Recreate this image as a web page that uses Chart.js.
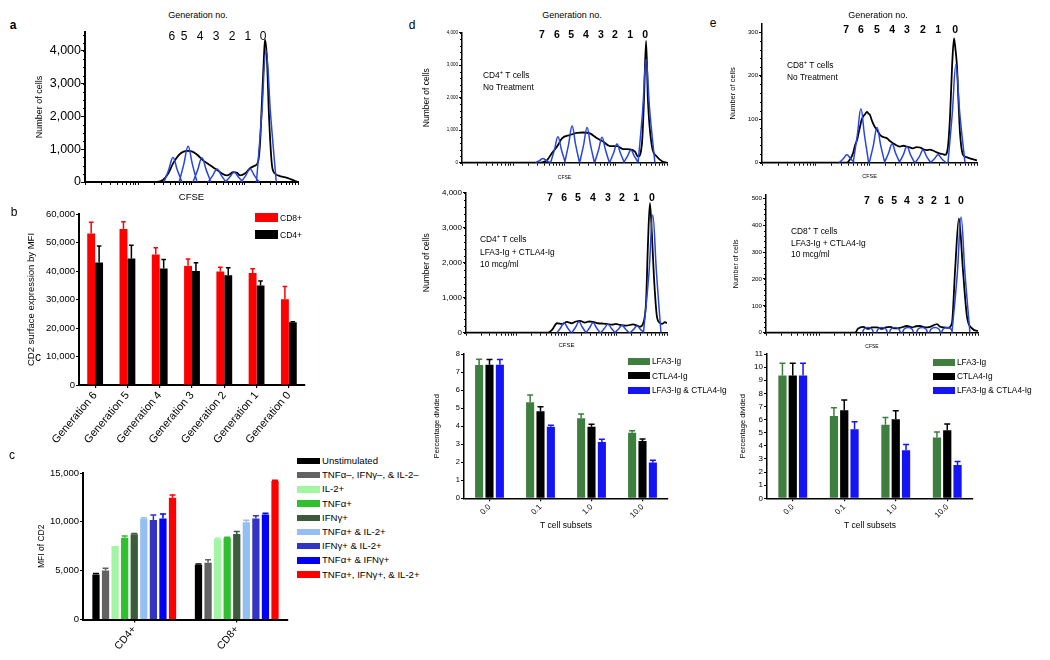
<!DOCTYPE html>
<html>
<head>
<meta charset="utf-8">
<script src="https://cdn.jsdelivr.net/npm/chart.js@4.4.1/dist/chart.umd.min.js"></script>
<style>
  body { margin: 0; background: #fff; }
  #fig { position: relative; width: 1050px; height: 660px; overflow: hidden; background: #fff; color: #000;
         font-family: 'Liberation Sans', Arial, sans-serif; }
  #fig canvas { position: absolute; }
  .t { position: absolute; white-space: nowrap; line-height: 1; }
  .c { transform: translate(-50%, -50%); }
  .m { transform: translateY(-50%); }
  .sw { position: absolute; }
  sup { font-size: 70%; vertical-align: super; line-height: 0; }
</style>
</head>
<body>
<div id="fig"></div>
<script>
// ---- panel a : CFSE histogram (CFSE in % of axis, counts) ----
const aTicks = [0, 1000, 2000, 3000, 4000];
const aBlack = [[0,0],[33.8,0],[36.6,60],[39.0,250],[41.3,560],[43.7,800],[46.0,920],[48.4,950],[50.7,920],[53.1,810],[55.4,660],[57.7,560],[60.1,450],[62.4,350],[64.3,260],[66.7,200],[68.1,240],[69.5,300],[71.4,280],[72.8,200],[75.1,260],[77.5,420],[79.8,500],[81.2,600],[82.2,1200],[83.1,2500],[84.0,3800],[84.5,4350],[85.4,3800],[86.4,2000],[87.8,500],[89.2,260],[91.5,180],[95.3,120],[98.6,30],[100,0]];
const aPeaks = [
  [[37.1,0],[39.3,375],[41.3,750],[43.3,375],[45.5,0]],
  [[44.2,0],[46.4,545],[48.4,1090],[50.4,545],[52.6,0]],
  [[50.7,0],[52.9,370],[54.9,740],[56.9,370],[59.1,0]],
  [[57.8,0],[60.0,200],[62.0,400],[64.0,200],[66.2,0]],
  [[65.8,0],[68.0,150],[70.0,300],[72.0,150],[74.2,0]],
  [[73.3,0],[75.5,200],[77.5,400],[79.5,200],[81.7,0]],
  [[80.5,0],[82.9,2000],[85.0,4020],[87.2,2000],[89.8,0]]
];
const aGen = ['6','5','4','3','2','1','0'];
const aGenX = [40.8, 46.5, 54.0, 61.5, 69.0, 76.5, 83.6];

// ---- panel b ----
const genCats = ['Generation 6','Generation 5','Generation 4','Generation 3','Generation 2','Generation 1','Generation 0'];
const bTicks = [0, 10000, 20000, 30000, 40000, 50000, 60000];
const cd8Mfi = [53200, 54700, 45800, 41800, 39800, 39300, 30100];
const cd8Sem = [3900, 2600, 2400, 2400, 1500, 1500, 4500];
const cd4Mfi = [43000, 44400, 40900, 40000, 38500, 34900, 22000];
const cd4Sem = [5800, 4600, 3100, 2900, 2600, 1600, 200];

// ---- panel c ----
const subsetCats = ['CD4+', 'CD8+'];
const cTicks = [0, 5000, 10000, 15000];
const cytoNames = ['Unstimulated','TNFα–, IFNγ–, & IL-2–','IL-2+','TNFα+','IFNγ+','TNFα+ & IL-2+','IFNγ+ & IL-2+','TNFα+ & IFNγ+','TNFα+, IFNγ+, & IL-2+'];
const cytoCd4 = [4600, 5020, 7530, 8380, 8730, 10310, 10200, 10340, 12470];
const cytoCd4Sem = [100, 240, 0, 180, 70, 100, 490, 450, 280];
const cytoCd8 = [5600, 5810, 8210, 8350, 8760, 9970, 10340, 10760, 14190];
const cytoCd8Sem = [70, 310, 110, 70, 240, 200, 280, 130, 70];

// ---- panel d histograms (CD4) ----
const dHistTicks = [0, 1000, 2000, 3000, 4000];
const dTopBlack = [[0,0],[38.0,0],[39.5,20],[41.5,80],[43.9,300],[46.3,490],[48.8,750],[52.7,850],[56.1,920],[59.0,930],[62.4,900],[65.9,750],[68.8,650],[72.2,510],[75.6,510],[78.5,420],[82.0,410],[84.4,340],[85.9,185],[87.8,600],[88.8,2000],[89.8,3750],[90.7,1930],[92.7,490],[95.1,185],[98.0,30],[100,0]];
const dTopPeaks = [
  [[35.9,0],[37.8,65],[39.5,130],[41.2,65],[43.1,0]],
  [[43.2,0],[45.1,400],[46.8,800],[48.5,400],[50.4,0]],
  [[50.1,0],[52.0,565],[53.7,1130],[55.4,565],[57.3,0]],
  [[57.4,0],[59.3,540],[61.0,1080],[62.7,540],[64.6,0]],
  [[64.7,0],[66.6,390],[68.3,780],[70.0,390],[71.9,0]],
  [[72.0,0],[73.9,288],[75.6,575],[77.3,288],[79.2,0]],
  [[78.8,0],[80.7,195],[82.4,390],[84.1,195],[86.0,0]],
  [[85.9,0],[88.1,1590],[89.8,3180],[91.6,1590],[94.1,0]]
];
const dMidBlack = [[0,0],[40.8,0],[42.8,80],[45.3,270],[47.8,250],[50.2,310],[52.7,270],[54.7,320],[56.7,340],[59.2,290],[61.2,320],[63.2,310],[65.7,270],[68.2,260],[70.1,250],[72.6,230],[74.6,250],[76.6,220],[79.6,200],[83.1,240],[85.1,200],[86.6,170],[88.1,260],[89.6,900],[90.5,2500],[91.5,3700],[92.5,2800],[93.5,1600],[95.0,460],[96.5,280],[97.5,250],[99.0,300],[100,270]];
const dMidPeaks = [
  [[45.3,0],[47.1,143],[48.8,285],[50.5,143],[52.3,0]],
  [[52.7,0],[54.5,155],[56.2,310],[57.9,155],[59.7,0]],
  [[59.7,0],[61.5,143],[63.2,285],[64.9,143],[66.7,0]],
  [[67.1,0],[68.9,125],[70.6,250],[72.3,125],[74.1,0]],
  [[74.1,0],[75.9,105],[77.6,210],[79.3,105],[81.1,0]],
  [[81.6,0],[83.4,95],[85.1,190],[86.8,95],[88.6,0]],
  [[88.3,0],[91.0,1680],[92.9,3360],[94.8,1680],[97.0,0]]
];
const gen8 = ['7','6','5','4','3','2','1','0'];
const dTopGenX = [39.0, 46.3, 53.2, 60.5, 67.8, 74.6, 82.0, 89.3];
const dMidGenX = [41.8, 48.8, 55.7, 63.2, 70.6, 77.6, 84.6, 92.5];

// ---- panel e histograms (CD8) ----
const eTopTicks = [0, 100, 200, 300];
const eMidTicks = [0, 100, 200, 300, 400, 500];
const eTopBlack = [[0,0],[39.5,0],[41.0,8],[42.3,21],[43.3,40],[44.2,52],[45.0,70],[45.6,83],[46.3,98],[47.0,106],[48.0,112],[48.8,117],[49.5,113],[50.2,110],[50.9,100],[51.6,91],[52.5,82],[53.5,75],[54.6,66],[55.8,60],[57.0,58],[58.1,56],[59.5,50],[60.9,45],[62.5,40],[64.2,37],[65.8,39],[67.4,37],[68.8,35],[70.2,33],[71.8,36],[73.5,35],[75.0,31],[76.7,29],[78.0,30],[79.5,28],[81.2,24],[82.8,21],[84.0,20],[85.1,18],[86.5,37],[87.5,110],[88.4,221],[89.3,286],[90.0,260],[90.7,221],[91.4,140],[92.1,68],[93.5,18],[95.0,13],[96.7,10],[98.0,8],[99.5,6],[100,5]];
const eTopPeaks = [
  [[35.9,0],[37.8,9],[39.5,18],[41.2,9],[43.1,0]],
  [[42.4,0],[44.3,62],[46.0,124],[47.7,62],[49.6,0]],
  [[49.9,0],[51.8,40],[53.5,81],[55.2,40],[57.1,0]],
  [[56.9,0],[58.8,21],[60.5,43],[62.2,21],[64.1,0]],
  [[63.8,0],[65.7,18],[67.4,37],[69.1,18],[71.0,0]],
  [[71.3,0],[73.2,14],[74.9,29],[76.6,14],[78.5,0]],
  [[78.3,0],[80.2,9],[81.9,18],[83.6,9],[85.5,0]],
  [[86.5,0],[88.5,113],[90.2,226],[92.0,113],[94.4,0]]
];
const eMidBlack = [[0,0],[42.0,0],[43.4,15],[45.8,22],[48.1,14],[50.0,20],[52.4,20],[54.7,14],[56.6,20],[58.5,22],[60.8,16],[63.2,18],[66.5,25],[68.9,20],[70.8,24],[72.6,25],[75.0,20],[77.4,22],[80.7,32],[82.1,22],[83.5,20],[85.8,18],[87.7,35],[89.2,233],[91.0,425],[92.9,233],[94.8,60],[97.2,16],[99.5,7],[100,7]];
const eMidPeaks = [
  [[45.5,0],[46.3,14],[48.1,19],[49.9,14],[50.7,0]],
  [[52.1,0],[52.9,14],[54.7,19],[56.5,14],[57.3,0]],
  [[58.2,0],[59.0,14],[60.8,19],[62.6,14],[63.4,0]],
  [[64.4,0],[65.2,14],[67.0,19],[68.8,14],[69.6,0]],
  [[71.0,0],[71.8,14],[73.6,19],[75.4,14],[76.2,0]],
  [[77.1,0],[77.9,14],[79.7,19],[81.5,14],[82.3,0]],
  [[82.8,0],[83.6,14],[85.4,19],[87.2,14],[88.0,0]],
  [[87.7,0],[90.2,215],[92.0,430],[93.9,215],[96.2,0]]
];
const eTopGenX = [39.1, 46.0, 53.5, 60.5, 67.4, 74.9, 81.9, 89.8];
const eMidGenX = [47.6, 54.2, 60.4, 66.5, 73.1, 79.2, 85.4, 92.0];

// ---- panels d / e bar charts ----
const doseCats = ['0.0', '0.1', '1.0', '10.0'];
const treatNames = ['LFA3-Ig', 'CTLA4-Ig', 'LFA3-Ig & CTLA4-Ig'];
const dBarTicks = [0, 1, 2, 3, 4, 5, 6, 7, 8];
const eBarTicks = [0, 1, 2, 3, 4, 5, 6, 7, 8, 9, 10, 11];
const cd4Lfa3 = [7.39, 5.32, 4.44, 3.64];
const cd4Lfa3Sem = [0.32, 0.41, 0.24, 0.11];
const cd4Ctla4 = [7.40, 4.82, 3.97, 3.18];
const cd4Ctla4Sem = [0.30, 0.26, 0.13, 0.11];
const cd4Both = [7.40, 3.97, 3.12, 1.98];
const cd4BothSem = [0.30, 0.08, 0.15, 0.13];
const cd8Lfa3 = [9.36, 6.28, 5.60, 4.63];
const cd8Lfa3Sem = [0.94, 0.62, 0.56, 0.43];
const cd8Ctla4 = [9.36, 6.72, 6.03, 5.19];
const cd8Ctla4Sem = [0.94, 0.78, 0.64, 0.48];
const cd8Both = [9.36, 5.27, 3.66, 2.54];
const cd8BothSem = [0.94, 0.56, 0.44, 0.26];

// colours
const BLUE_LINE = '#2a46d8';
const cytoColors = ['#000000','#626262','#a2f5a2','#2fbf2f','#3b5b3b','#93bff3','#3434c2','#0000f5','#ff0000'];
const treatColors = ['#3e7e3e', '#000000', '#1414f5'];

const FONT = "'Liberation Sans', Arial, sans-serif";
Chart.defaults.font.family = FONT;
Chart.defaults.color = '#000';
const fig = document.getElementById('fig');

// log-decade style tick marks on the CFSE axis
const cfseTicks = [];
for (let d = 0; d < 4; d++) for (let k = 1; k < 10; k++) cfseTicks.push(25 * (d + Math.log10(k)));
cfseTicks.push(100);

const errorBars = {
  id: 'errorBars',
  afterDatasetsDraw(chart, args, opts) {
    const ctx = chart.ctx, y = chart.scales.y;
    chart.data.datasets.forEach((ds, i) => {
      const meta = chart.getDatasetMeta(i);
      meta.data.forEach((bar, j) => {
        const e = ds.err[j];
        if (!e) return;
        const top = y.getPixelForValue(ds.data[j] + e);
        ctx.save();
        ctx.strokeStyle = ds.backgroundColor;
        ctx.lineWidth = 1.5;
        ctx.beginPath();
        ctx.moveTo(bar.x, bar.y);
        ctx.lineTo(bar.x, top);
        ctx.moveTo(bar.x - opts.cap, top);
        ctx.lineTo(bar.x + opts.cap, top);
        ctx.stroke();
        ctx.restore();
      });
    });
  }
};

const genLabels = {
  id: 'genLabels',
  afterDraw(chart, args, o) {
    if (!o.text) return;
    const ctx = chart.ctx, xs = chart.scales.x, ys = chart.scales.y;
    ctx.save();
    ctx.font = o.font;
    ctx.fillStyle = '#000';
    ctx.textAlign = 'center';
    ctx.textBaseline = 'middle';
    o.text.forEach((t, i) => ctx.fillText(t, xs.getPixelForValue(o.x[i]), ys.getPixelForValue(o.y)));
    ctx.restore();
  }
};

const minorTicks = {
  id: 'minorTicks',
  afterDraw(chart, args, o) {
    if (!o.step) return;
    const ctx = chart.ctx, y = chart.scales.y;
    ctx.save();
    ctx.strokeStyle = '#000';
    ctx.lineWidth = 1;
    for (let v = 0; v <= y.max + 1e-9; v += o.step) {
      const p = Math.round(y.getPixelForValue(v)) + 0.5;
      ctx.beginPath();
      ctx.moveTo(y.right, p);
      ctx.lineTo(y.right - o.len, p);
      ctx.stroke();
    }
    ctx.restore();
  }
};

function addCanvas(box) {
  const c = document.createElement('canvas');
  c.width = box[2]; c.height = box[3];
  c.style.left = box[0] + 'px'; c.style.top = box[1] + 'px';
  c.style.width = box[2] + 'px'; c.style.height = box[3] + 'px';
  fig.appendChild(c);
  return c;
}

function addText(html, x, y, size, cls, weight) {
  fig.insertAdjacentHTML('beforeend',
    `<div class="t ${cls}" style="left:${x}px;top:${y}px;font-size:${size}px;font-weight:${weight || 'normal'}">${html}</div>`);
}

function legend(x, y0, dy, bw, bh, fs, names, colors) {
  names.forEach((n, i) => {
    const y = y0 + i * dy;
    fig.insertAdjacentHTML('beforeend',
      `<div class="sw" style="left:${x}px;top:${y - bh / 2}px;width:${bw}px;height:${bh}px;background:${colors[i]}"></div>` +
      `<div class="t m" style="left:${x + bw + 2}px;top:${y}px;font-size:${fs}px">${n}</div>`);
  });
}

function axisY(o) {
  return {
    min: 0, max: o.max,
    afterBuildTicks: s => { s.ticks = o.ticks.map(v => ({ value: v })); },
    afterFit: s => { s.width = o.w; },
    border: { color: '#000', width: o.bw },
    grid: { drawOnChartArea: false, color: '#000', lineWidth: 1, tickLength: o.tl },
    ticks: { font: { size: o.fs }, padding: o.tp, callback: v => v.toLocaleString('en-US') },
    title: { display: true, text: o.title, font: { size: o.ts }, padding: 0 }
  };
}

function axisCFSE(o) {
  return {
    type: 'linear', min: 0, max: 100,
    afterBuildTicks: s => { s.ticks = cfseTicks.map(v => ({ value: v })); },
    afterFit: s => { s.height = o.h; },
    border: { color: '#000', width: o.bw },
    grid: { drawOnChartArea: false, color: '#000', lineWidth: 1, tickLength: 3 },
    ticks: { display: false },
    title: { display: true, text: 'CFSE', font: { size: o.ts }, padding: 0 }
  };
}

function axisCat(o) {
  return {
    type: 'category', offset: true,
    afterFit: s => { s.height = o.h; },
    border: { color: '#000', width: o.bw },
    grid: { offset: false, drawOnChartArea: false, color: '#000', lineWidth: 1.2, tickLength: 3 },
    ticks: { font: { size: o.fs }, minRotation: o.rot, maxRotation: o.rot, padding: 1, autoSkip: false },
    title: o.title ? { display: true, text: o.title, font: { size: o.ts }, padding: 0 } : { display: false }
  };
}

function points(curves) {
  const out = [];
  curves.forEach((c, i) => {
    if (i) out.push({ x: c[0][0], y: null });
    c.forEach(p => out.push({ x: p[0], y: p[1] }));
  });
  return out;
}

function histogram(box, pad, yAx, xAx, black, peaks, gen, minor) {
  new Chart(addCanvas(box), {
    type: 'line',
    data: {
      datasets: [
        { data: points(peaks), borderColor: BLUE_LINE, borderWidth: 1.5, spanGaps: false,
          cubicInterpolationMode: 'default', tension: 0.4 },
        { data: points([black]), borderColor: '#000', borderWidth: 1.8, cubicInterpolationMode: 'monotone' }
      ]
    },
    options: {
      responsive: false, animation: false, devicePixelRatio: 1,
      layout: { padding: { top: pad[0], right: pad[1], bottom: 0, left: 0 }, autoPadding: false },
      elements: { point: { radius: 0 }, line: { fill: false } },
      plugins: { legend: { display: false }, tooltip: { enabled: false }, genLabels: gen, minorTicks: minor },
      scales: { x: xAx, y: yAx }
    },
    plugins: [genLabels, minorTicks]
  });
}

function barChart(box, pad, cats, datasets, xAx, yAx, cap) {
  new Chart(addCanvas(box), {
    type: 'bar',
    data: { labels: cats, datasets },
    options: {
      responsive: false, animation: false, devicePixelRatio: 1,
      layout: { padding: { top: pad[0], right: pad[1], bottom: 0, left: 0 }, autoPadding: false },
      plugins: { legend: { display: false }, tooltip: { enabled: false }, errorBars: { cap } },
      scales: { x: xAx, y: yAx }
    },
    plugins: [errorBars]
  });
}

// ---------- a ----------
histogram([34, 20, 270, 183], [12, 6],
  axisY({ max: 4580, ticks: aTicks, w: 51, bw: 2, tl: 4, tp: 0, fs: 12.5, ts: 9, title: 'Number of cells' }),
  axisCFSE({ h: 21, bw: 2, ts: 9.5 }),
  aBlack, aPeaks,
  { text: aGen, x: aGenX, y: 4450, font: `12px ${FONT}` },
  { step: 250, len: 2 });

// ---------- b ----------
barChart([26, 200, 284, 255], [14, 5], genCats, [
    { data: cd8Mfi, err: cd8Sem, backgroundColor: '#ff0000', barPercentage: 1, categoryPercentage: 0.49 },
    { data: cd4Mfi, err: cd4Sem, backgroundColor: '#000000', barPercentage: 1, categoryPercentage: 0.49 }
  ],
  axisCat({ h: 70, bw: 2, fs: 11, rot: 50 }),
  axisY({ max: 60000, ticks: bTicks, w: 53, bw: 2, tl: 3, tp: 1, fs: 9.5, ts: 9.5, title: 'CD2 surface expression by MFI' }),
  2.3);

// ---------- c ----------
barChart([37, 460, 256, 200], [13, 5], subsetCats,
  cytoNames.map((n, i) => ({
    data: [cytoCd4[i], cytoCd8[i]], err: [cytoCd4Sem[i], cytoCd8Sem[i]],
    backgroundColor: cytoColors[i], barPercentage: 0.76, categoryPercentage: 0.84
  })),
  axisCat({ h: 40.5, bw: 2, fs: 10.5, rot: 50 }),
  axisY({ max: 15000, ticks: cTicks, w: 46, bw: 2, tl: 3, tp: 1, fs: 9.5, ts: 8.5, title: 'MFI of CD2' }),
  3);

// ---------- d ----------
histogram([422, 20, 250, 161], [12.7, 5],
  axisY({ max: 4000, ticks: dHistTicks, w: 40, bw: 1.5, tl: 3, tp: 1, fs: 4.5, ts: 8.5, title: 'Number of cells' }),
  axisCFSE({ h: 18.3, bw: 1.5, ts: 5 }),
  dTopBlack, dTopPeaks,
  { text: gen8, x: dTopGenX, y: 3930, font: `bold 10.5px ${FONT}` },
  { step: 200, len: 2 });

histogram([422, 185, 250, 164], [7.7, 5],
  axisY({ max: 4000, ticks: dHistTicks, w: 44, bw: 1.5, tl: 3, tp: 1, fs: 8, ts: 8.5, title: 'Number of cells' }),
  axisCFSE({ h: 16.3, bw: 1.5, ts: 6 }),
  dMidBlack, dMidPeaks,
  { text: gen8, x: dMidGenX, y: 3850, font: `bold 10.5px ${FONT}` },
  { step: 200, len: 2 });

barChart([432, 345, 240, 186], [9, 4], doseCats, [
    { data: cd4Lfa3, err: cd4Lfa3Sem, backgroundColor: treatColors[0], barPercentage: 0.78, categoryPercentage: 0.61 },
    { data: cd4Ctla4, err: cd4Ctla4Sem, backgroundColor: treatColors[1], barPercentage: 0.78, categoryPercentage: 0.61 },
    { data: cd4Both, err: cd4BothSem, backgroundColor: treatColors[2], barPercentage: 0.78, categoryPercentage: 0.61 }
  ],
  axisCat({ h: 32.7, bw: 1.5, fs: 8, rot: 45, title: 'T cell subsets', ts: 8.5 }),
  axisY({ max: 8, ticks: dBarTicks, w: 32, bw: 1.5, tl: 3, tp: 1, fs: 7.5, ts: 7.5, title: 'Percentage divided' }),
  3);

// ---------- e ----------
histogram([728, 15, 254, 165], [9, 5],
  axisY({ max: 319, ticks: eTopTicks, w: 34, bw: 1.5, tl: 3, tp: 1, fs: 6, ts: 7.5, title: 'Number of cells' }),
  axisCFSE({ h: 17.3, bw: 1.5, ts: 5.5 }),
  eTopBlack, eTopPeaks,
  { text: gen8, x: eTopGenX, y: 305, font: `bold 10.5px ${FONT}` },
  { step: 20, len: 2 });

histogram([732, 185, 251, 165], [10, 5],
  axisY({ max: 512, ticks: eMidTicks, w: 34, bw: 1.5, tl: 3, tp: 1, fs: 6.2, ts: 7, title: 'Number of cells' }),
  axisCFSE({ h: 17.3, bw: 1.5, ts: 5 }),
  eMidBlack, eMidPeaks,
  { text: gen8, x: eMidGenX, y: 490, font: `bold 10.5px ${FONT}` },
  { step: 20, len: 2 });

barChart([738, 345, 240, 186], [9, 5], doseCats, [
    { data: cd8Lfa3, err: cd8Lfa3Sem, backgroundColor: treatColors[0], barPercentage: 0.8, categoryPercentage: 0.6 },
    { data: cd8Ctla4, err: cd8Ctla4Sem, backgroundColor: treatColors[1], barPercentage: 0.8, categoryPercentage: 0.6 },
    { data: cd8Both, err: cd8BothSem, backgroundColor: treatColors[2], barPercentage: 0.8, categoryPercentage: 0.6 }
  ],
  axisCat({ h: 32.7, bw: 1.5, fs: 8, rot: 45, title: 'T cell subsets', ts: 8.5 }),
  axisY({ max: 11, ticks: eBarTicks, w: 29, bw: 1.5, tl: 3, tp: 1, fs: 8, ts: 7.5, title: 'Percentage divided' }),
  3);

// ---------- free text and legends ----------
addText('a', 13, 25, 12, 'c', 'bold');
addText('Generation no.', 198, 15, 9, 'c');
addText('b', 14, 212, 12, 'c');
addText('c', 38, 357, 12, 'c');
addText('c', 12, 455, 12, 'c');
addText('d', 412, 25, 12, 'c');
addText('Generation no.', 572, 15, 9, 'c');
addText('e', 713, 23, 12, 'c');
addText('Generation no.', 878, 15, 9, 'c');

addText('CD4<sup>+</sup> T cells', 483, 75, 8.4, 'm');
addText('No Treatment', 483, 87, 8.4, 'm');
addText('CD4<sup>+</sup> T cells', 480, 239, 8.4, 'm');
addText('LFA3-Ig + CTLA4-Ig', 480, 252, 8.4, 'm');
addText('10 mcg/ml', 480, 264, 8.4, 'm');
addText('CD8<sup>+</sup> T cells', 787, 65, 8.4, 'm');
addText('No Treatment', 787, 77, 8.4, 'm');
addText('CD8<sup>+</sup> T cells', 791, 231, 8.4, 'm');
addText('LFA3-Ig + CTLA4-Ig', 791, 243, 8.4, 'm');
addText('10 mcg/ml', 791, 254, 8.4, 'm');

legend(255, 217.5, 17.2, 23, 8.5, 8.5, ['CD8+', 'CD4+'], ['#ff0000', '#000000']);
legend(297, 461, 14.2, 23, 6.5, 9.6, cytoNames, cytoColors);
legend(628, 361, 14.5, 22, 7, 8.3, treatNames, treatColors);
legend(933, 362, 14, 22, 7, 8.3, treatNames, treatColors);
</script>
</body>
</html>
